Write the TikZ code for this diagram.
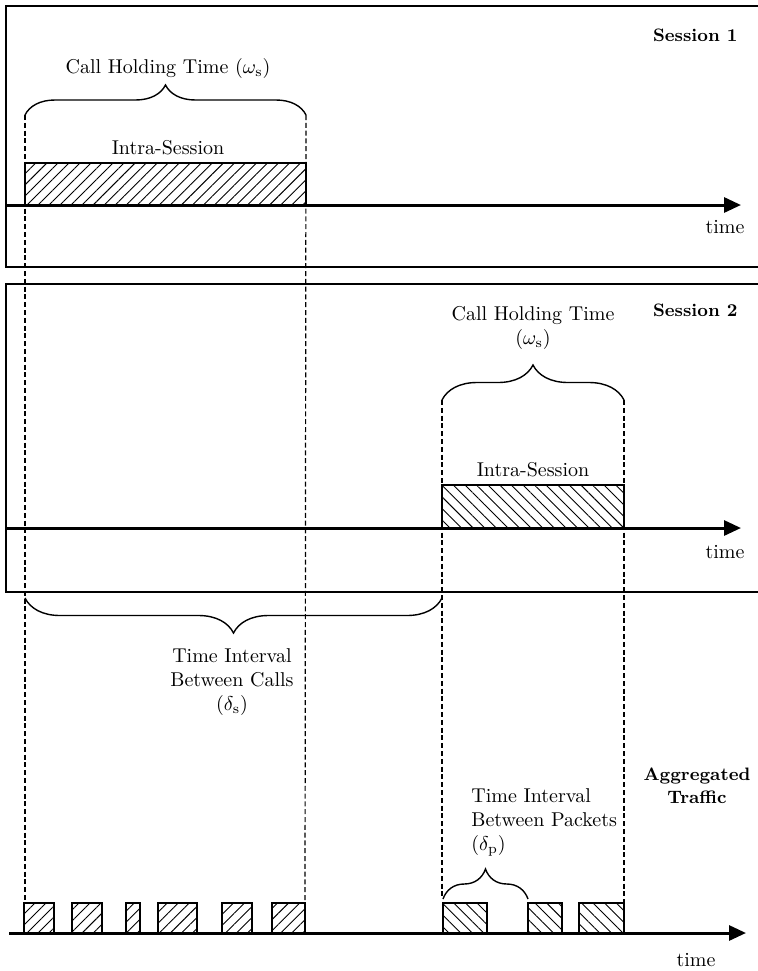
\documentclass[tikz,border=0pt]{standalone}
\usepackage{amsmath}
\usepackage{tikz}
\usetikzlibrary{arrows.meta,positioning,decorations.pathreplacing,patterns.meta}
\tikzset{
  panel/.style={draw, line width=0.9pt},
  taxis/.style={-{Triangle[length=8.5pt, width=7.5pt]}, line width=1.5pt},
  guide/.style={dash pattern=on 2.5pt off 1.4pt, line width=0.6pt},
  hatchR/.style={draw, line width=0.7pt, pattern={Lines[angle=45, distance=3.9pt, line width=0.45pt]}},
  hatchL/.style={draw, line width=0.7pt, pattern={Lines[angle=-45, distance=4.1pt, line width=0.45pt]}},
  span/.style={decorate, decoration={brace, amplitude=#1}, line width=0.7pt},
  spanlow/.style={decorate, decoration={brace, mirror, amplitude=#1}, line width=0.7pt},
  lbl/.style={inner sep=0pt, align=center},
  tag/.style={inner sep=0pt, align=center, font=\fontsize{9}{11.5}\selectfont\bfseries},
}

\begin{document}
\begin{tikzpicture}[x=0.5pt, y=-0.5pt]
\clip (0,0) rectangle (758,971);
% Panels for the two sessions (open to the right)
\draw[panel] (6,6) rectangle (775,267);
\draw[panel] (6,284) rectangle (775,592);
% Session 1
\node[tag, anchor=east] (sess1) at (738,35) {Session 1};
\coordinate (b1nw) at (25,163);
\coordinate (b1se) at (306,205);
\draw[hatchR] (b1nw) rectangle (b1se);
\node[lbl] (intra1) at (168,148) {Intra-Session};
\coordinate (h1l) at (25,115);
\coordinate (h1r) at (306,115);
\draw[span=15pt] (h1l) -- (h1r);
\node[lbl] (chold1) at (168,68) {Call Holding Time ($\omega_{\mathrm{s}}$)};
\coordinate (t1a) at (6,205);
\coordinate (t1b) at (741,205);
\draw[taxis] (t1a) -- (t1b);
\node[lbl] (time1) at (725,227) {time};
% Session 2
\node[tag, anchor=east] (sess2) at (738,310) {Session 2};
\coordinate (b2nw) at (442,485);
\coordinate (b2se) at (624,528);
\draw[hatchL] (b2nw) rectangle (b2se);
\node[lbl] (intra2) at (533,470) {Intra-Session};
\coordinate (h2l) at (442,400);
\coordinate (h2r) at (624,400);
\draw[span=17.5pt] (h2l) -- (h2r);
\node[lbl] (chold2) at (533,328) {Call Holding Time\\($\omega_{\mathrm{s}}$)};
\coordinate (t2a) at (6,528);
\coordinate (t2b) at (741,528);
\draw[taxis] (t2a) -- (t2b);
\node[lbl] (time2) at (725,552) {time};
% Gap between the calls
\coordinate (g1) at (25,598);
\coordinate (g2) at (442,598);
\draw[spanlow=17.5pt] (g1) -- (g2);
\node[lbl] (gapcalls) at (232,682) {Time Interval\\Between Calls\\($\delta_{\mathrm{s}}$)};
% Dashed guides down to the aggregated traffic
\coordinate (d1) at (25,903);
\coordinate (d2) at (305,903);
\coordinate (d3) at (442,896);
\coordinate (d4) at (624,903);
\draw[guide] (h1l) -- (d1);
\draw[guide] (h1r) -- (d2);
\draw[guide] (h2l) -- (d3);
\draw[guide] (h2r) -- (d4);
% Aggregated traffic
\node[tag] (aggr) at (697,786) {Aggregated\\Traffic};
\foreach \a/\b in {24/54, 72/102, 126/140, 158/197, 222/252, 272/305}
  \draw[hatchR] (\a,903) rectangle (\b,933);
\foreach \a/\b in {443/487, 528/562, 579/624}
  \draw[hatchL] (\a,903) rectangle (\b,933);
\coordinate (p1) at (443,899);
\coordinate (p2) at (528,899);
\draw[span=15pt] (p1) -- (p2);
\node[lbl, align=left, anchor=west] (gappkts) at (471,822) {Time Interval\\Between Packets\\($\delta_{\mathrm{p}}$)};
\coordinate (t3a) at (9,933);
\coordinate (t3b) at (746,933);
\draw[taxis] (t3a) -- (t3b);
\node[lbl] (time3) at (696,960) {time};
\end{tikzpicture}
\end{document}
